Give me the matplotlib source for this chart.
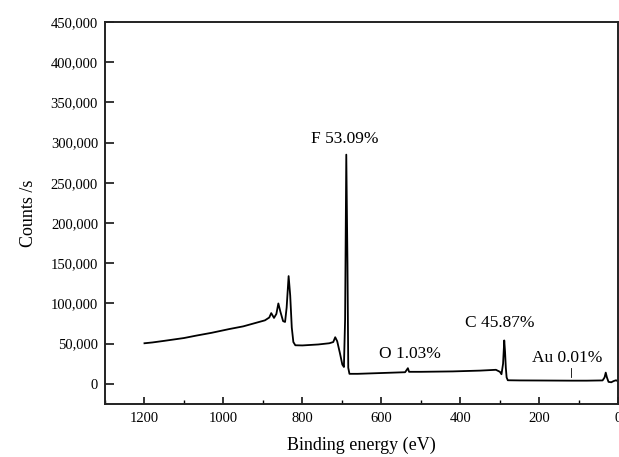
import matplotlib
matplotlib.use("Agg")
import matplotlib.pyplot as plt
from matplotlib.ticker import FuncFormatter, MultipleLocator

plt.rcParams['font.family'] = ['Liberation Serif', 'DejaVu Serif']

# survey spectrum: binding energy (eV), counts/s
energy = [1200, 1180, 1150, 1100, 1069, 1030, 985, 950, 917, 895, 884, 879,
          872, 866, 861, 856, 849, 844, 840, 835, 831, 827, 823, 818, 800,
          760, 732, 722, 717, 712, 705, 699, 695, 692, 689, 686, 684, 681,
          660, 600, 540, 533, 530, 500, 420, 350, 310, 300, 296, 292, 289,
          287, 285, 283, 280, 250, 200, 119, 80, 40, 35, 32, 29, 25, 18, 12,
          6, 0]
counts = [50500, 51500, 53500, 57000, 60000, 63500, 68200, 71500, 76000,
          79000, 82500, 88000, 82000, 87000, 100000, 90000, 78000, 77000,
          95000, 134000, 110000, 70000, 52000, 48000, 47800, 49000, 50500,
          52000, 58000, 53000, 38000, 24000, 21000, 80000, 285000, 150000,
          20000, 12500, 12500, 13500, 14500, 19500, 15000, 15000, 15500,
          16500, 17500, 15000, 12000, 25000, 54000, 40000, 20000, 8000, 4500,
          4300, 4200, 4000, 4000, 4300, 8000, 14000, 8000, 2500, 2000, 3500,
          4500, 3000]

labels = ["F 53.09%", "C 45.87%", "O 1.03%", "Au 0.01%"]
label_x = [694, 301, 527, 129]
label_y = [305000, 75700, 37200, 32300]

au_mark_x = 119
au_mark_y = [8700, 19800]

fig = plt.figure(figsize=(6.19, 4.57), dpi=100)
ax = fig.add_axes([0.1696, 0.116, 0.8294, 0.836])

ax.plot(energy, counts, color='black', lw=1.3)
ax.plot([au_mark_x, au_mark_x], au_mark_y, color='black', lw=0.6)

for t, x, y in zip(labels, label_x, label_y):
    ax.text(x, y, t, ha='center', va='center', fontsize=12.5)

ax.set_xlim(1300, 0)
ax.set_ylim(-25000, 450000)
ax.xaxis.set_major_locator(MultipleLocator(200))
ax.xaxis.set_minor_locator(MultipleLocator(100))
ax.yaxis.set_major_locator(MultipleLocator(50000))
ax.yaxis.set_major_formatter(FuncFormatter(lambda v, p: f"{int(v):,}"))

ax.tick_params(axis='x', which='major', direction='in', length=5, width=1.1,
               labelsize=10.5, pad=6, top=False)
ax.tick_params(axis='x', which='minor', direction='in', length=3, width=1.0,
               top=False)
ax.tick_params(axis='y', which='major', direction='in', length=6.5, width=1.1,
               labelsize=10.5, pad=5, right=False)

for s in ax.spines.values():
    s.set_linewidth(1.4)
    s.set_color('#222222')

ax.set_xlabel("Binding energy (eV)", fontsize=13, labelpad=8)
ax.set_ylabel("Counts /s", fontsize=13, labelpad=10)

fig.savefig("out.png", dpi=100)
